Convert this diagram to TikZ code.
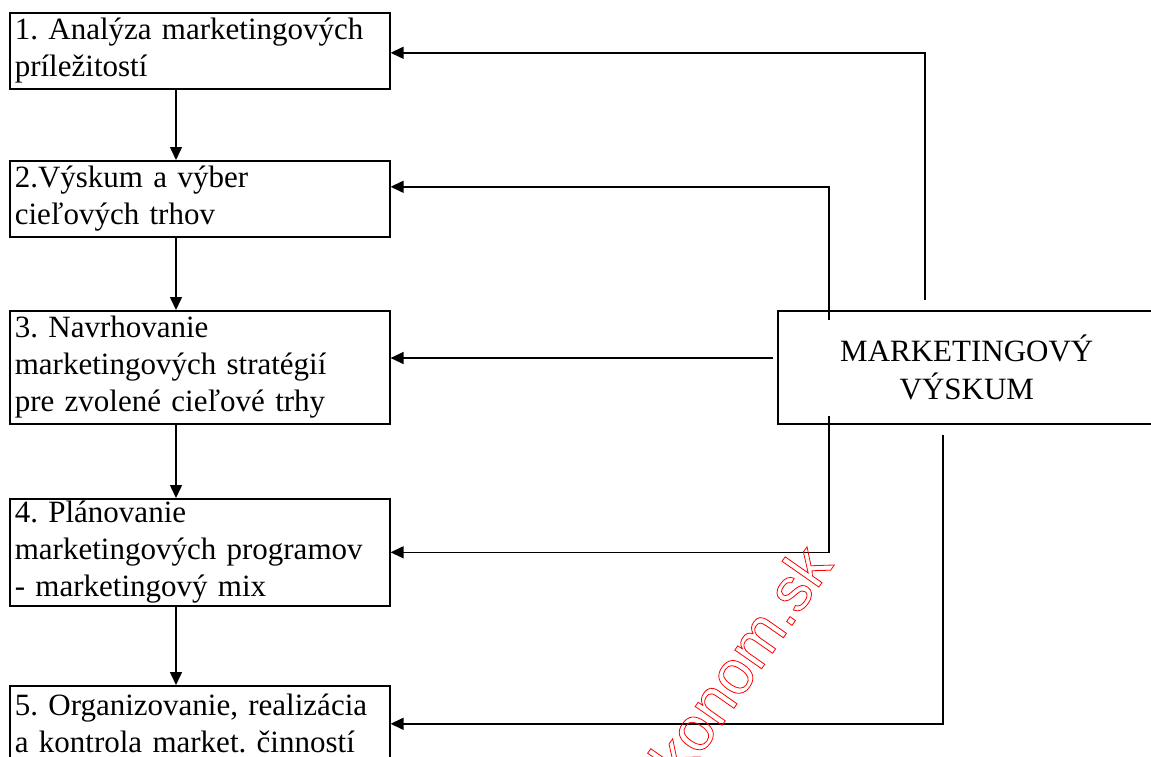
\documentclass[tikz,border=0pt]{standalone}
\usepackage{fontspec}
\setmainfont{Liberation Serif}
\newfontfamily\wmfont{Liberation Sans}
\usetikzlibrary{arrows.meta}

\tikzset{
  stage/.style={draw, line width=1.6pt, anchor=north west, minimum width=380pt,
    text width=370pt, inner xsep=5pt, inner ysep=0pt, align=left,
    font=\frenchspacing\fontsize{31}{37}\selectfont},
  link/.style={line width=1.5pt, -{Triangle[length=13pt,width=12pt]}},
}

\begin{document}
\begin{tikzpicture}[x=1pt,y=-1pt]
\useasboundingbox (0,0) rectangle (1151,756);
\node[stage, minimum height=76pt] (s1) at (9,12) {1. Analýza marketingových\\príležitostí};
\node[stage, minimum height=76pt] (s2) at (9,160) {2.Výskum a výber\\cieľových trhov};
\node[stage, minimum height=113pt] (s3) at (9,310) {3. Navrhovanie\\marketingových stratégií\\pre zvolené cieľové trhy};
\node[stage, minimum height=107pt] (s4) at (9,498) {4. Plánovanie\\marketingových programov\\- marketingový mix};
\node[stage, minimum height=76pt] (s5) at (9,685) {5. Organizovanie, realizácia\\a kontrola market. činností};
\node[draw, line width=1.6pt, anchor=north west, minimum width=378pt, minimum height=113pt,
  align=center, font=\fontsize{31}{38}\selectfont] (mv) at (777,310) {MARKETINGOVÝ\\VÝSKUM};

\foreach \a/\b in {s1/s2,s2/s3,s3/s4,s4/s5}
  \draw[link] ([xshift=167pt]\a.south west) -- ([xshift=167pt]\b.north west);

\coordinate (r1) at (925,300);
\coordinate (r2) at (829,320);
\coordinate (r3) at (773,358);
\coordinate (r4) at (829,416);
\coordinate (r5) at (943,435);
\draw[link] (r1) |- ([yshift=-2pt]s1.east);
\draw[link] (r2) |- ([yshift=12pt]s2.east);
\draw[link] (r3) -- (r3 -| s3.east);
\draw[link] (r4) |- (s4.east);
\draw[link] (r5) |- (s5.east);

\node[text=red, rotate=55, font=\wmfont\fontsize{62}{62}\selectfont] (wm) at (740,661)
  {\special{pdf:literal direct 1 Tr 0.8 w}konom.sk\special{pdf:literal direct 0 Tr}};
\end{tikzpicture}
\end{document}
